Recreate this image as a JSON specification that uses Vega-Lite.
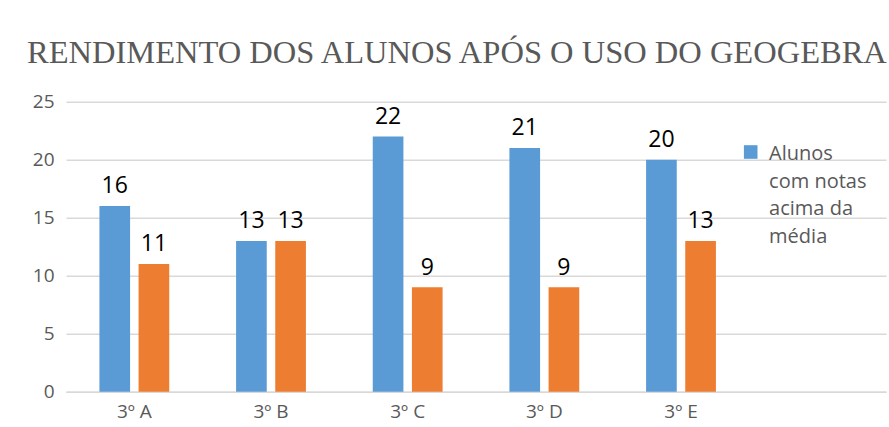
{
  "$schema": "https://vega.github.io/schema/vega-lite/v6.json",
  "width": 820,
  "height": 290,
  "autosize": "none",
  "padding": {"left": 66, "top": 101.7, "right": 3, "bottom": 35.3},
  "background": "white",
  "title": {
    "text": "RENDIMENTO DOS ALUNOS APÓS O USO DO GEOGEBRA",
    "font": "Liberation Serif",
    "fontSize": 32.5,
    "fontWeight": "normal",
    "color": "#595959",
    "anchor": "start",
    "frame": "group",
    "dx": -39,
    "dy": 29,
    "baseline": "alphabetic",
    "offset": 26
  },
  "data": {
    "values": [
      {"turma": "3º A", "serie": "Alunos com notas acima da média", "valor": 16},
      {"turma": "3º A", "serie": "Alunos com notas abaixo da média", "valor": 11},
      {"turma": "3º B", "serie": "Alunos com notas acima da média", "valor": 13},
      {"turma": "3º B", "serie": "Alunos com notas abaixo da média", "valor": 13},
      {"turma": "3º C", "serie": "Alunos com notas acima da média", "valor": 22},
      {"turma": "3º C", "serie": "Alunos com notas abaixo da média", "valor": 9},
      {"turma": "3º D", "serie": "Alunos com notas acima da média", "valor": 21},
      {"turma": "3º D", "serie": "Alunos com notas abaixo da média", "valor": 9},
      {"turma": "3º E", "serie": "Alunos com notas acima da média", "valor": 20},
      {"turma": "3º E", "serie": "Alunos com notas abaixo da média", "valor": 13}
    ]
  },
  "encoding": {
    "x": {
      "field": "turma",
      "type": "nominal",
      "scale": {"domain": ["3º A", "3º B", "3º C", "3º D", "3º E", ""], "paddingInner": 0.489, "paddingOuter": 0.2445},
      "axis": {
        "title": null,
        "labelAngle": 0,
        "ticks": false,
        "domain": true,
        "domainColor": "#D9D9D9",
        "domainWidth": 1.5,
        "labelPadding": 3,
        "labelFont": "Open Sans",
        "labelFontSize": 19,
        "labelColor": "#595959"
      }
    },
    "y": {
      "field": "valor",
      "type": "quantitative",
      "scale": {"domain": [0, 25]},
      "axis": {
        "title": null,
        "values": [0, 5, 10, 15, 20, 25],
        "domain": false,
        "ticks": false,
        "labelPadding": 12,
        "labelOffset": -8,
        "labelFont": "Open Sans",
        "labelFontSize": 19,
        "labelColor": "#595959",
        "gridColor": "#D9D9D9",
        "gridWidth": 1.5
      }
    },
    "xOffset": {
      "field": "serie",
      "type": "nominal",
      "scale": {"domain": ["Alunos com notas acima da média", "Alunos com notas abaixo da média"], "paddingInner": 0.217, "paddingOuter": 0}
    }
  },
  "layer": [
    {
      "mark": {"type": "bar"},
      "encoding": {
        "color": {
          "field": "serie",
          "type": "nominal",
          "scale": {"domain": ["Alunos com notas acima da média", "Alunos com notas abaixo da média"], "range": ["#5B9BD5", "#ED7D31"]},
          "legend": {
            "values": ["Alunos com notas acima da média"],
            "orient": "none",
            "legendX": 674.7,
            "legendY": 40.3,
            "title": null,
            "padding": 0,
            "symbolType": "square",
            "symbolSize": 185,
            "symbolStrokeWidth": 0,
            "labelFont": "Open Sans",
            "labelFontSize": 20,
            "labelColor": "#595959",
            "labelOffset": 8.4,
            "labelLimit": 300,
            "labelBaseline": "alphabetic",
            "labelExpr": "['Alunos', 'com notas', 'acima da', 'média']"
          }
        }
      }
    },
    {
      "mark": {"type": "text", "dy": -12.7, "baseline": "alphabetic", "font": "Open Sans", "fontSize": 23, "color": "#000000"},
      "encoding": {"text": {"field": "valor", "type": "quantitative"}}
    }
  ],
  "config": {
    "view": {"stroke": null},
    "style": {"guide-label": {"lineHeight": 27.7, "dy": 8}}
  }
}
